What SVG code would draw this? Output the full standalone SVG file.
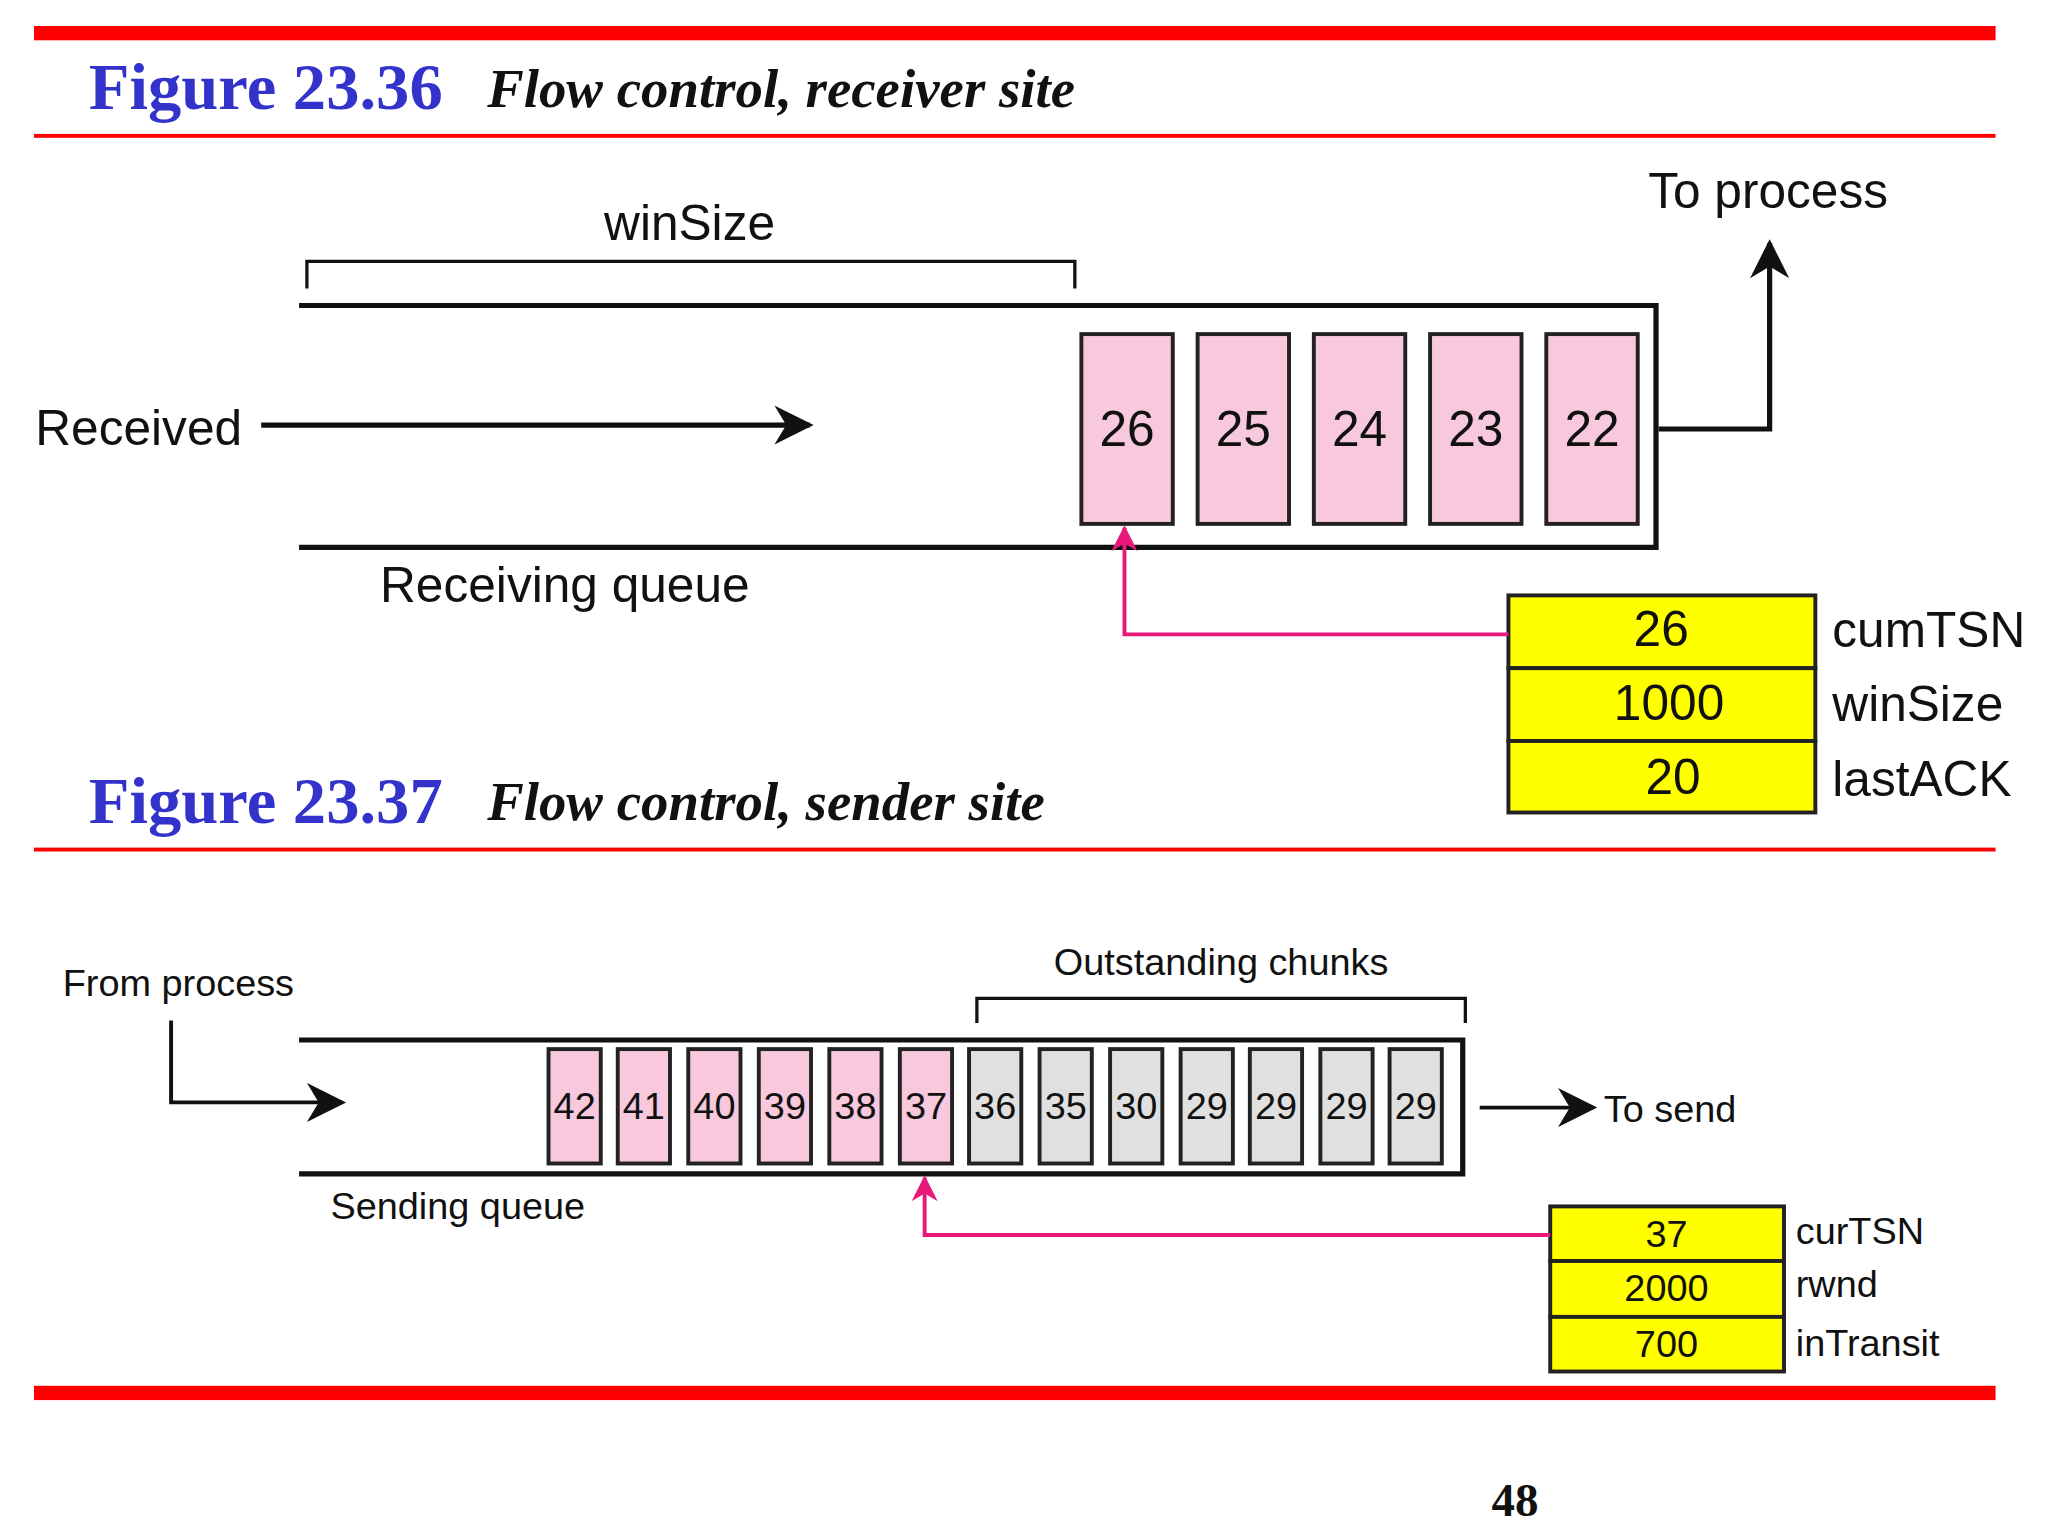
<svg xmlns="http://www.w3.org/2000/svg" width="2048" height="1536" viewBox="0 0 2048 1536">
<style>
.t{font-family:"Liberation Sans",Arial,sans-serif;fill:#111}
.fig{font-family:"Liberation Serif","Times New Roman",serif;font-weight:bold;fill:#3333cc;font-size:51px}
.cap{font-family:"Liberation Serif","Times New Roman",serif;font-weight:bold;font-style:italic;fill:#111;font-size:42px}
.q{fill:none;stroke:#111;stroke-width:4}
.pk{fill:#f8c8dc;stroke:#222;stroke-width:3}
.gy{fill:#e0e0e0;stroke:#222;stroke-width:3}
.yl{fill:#ffff00;stroke:#222;stroke-width:3}
.blk{fill:none;stroke:#111;stroke-width:4}
.mag{fill:none;stroke:#e8197a;stroke-width:3}
</style>
<defs>
<marker id="ab2" viewBox="0 0 10 10" refX="9" refY="5" markerWidth="40" markerHeight="30" markerUnits="userSpaceOnUse" orient="auto"><path d="M0,0 L10,5 L0,10 L3,5 z" fill="#111"/></marker>
<marker id="am" viewBox="0 0 10 10" refX="9" refY="5" markerWidth="26" markerHeight="20" markerUnits="userSpaceOnUse" orient="auto"><path d="M0,0 L10,5 L0,10 L3,5 z" fill="#e8197a"/></marker>
</defs>
<rect width="2048" height="1536" fill="#fff"/>
<g transform="scale(1.306,1.300)">
<g id="frame">
<rect x="26" y="20" width="1502" height="11" fill="#ff0000"/>
<rect x="26" y="103" width="1502" height="3" fill="#ff0000"/>
<rect x="26" y="652" width="1502" height="3" fill="#ff0000"/>
<rect x="26" y="1066" width="1502" height="11" fill="#ff0000"/>
<text class="fig" x="68" y="84">Figure 23.36</text>
<text class="cap" x="373" y="82">Flow control, receiver site</text>
<text class="fig" x="68" y="633">Figure 23.37</text>
<text class="cap" x="373" y="631">Flow control, sender site</text>
<text x="1160" y="1166" text-anchor="middle" style="font-family:'Liberation Serif',serif;font-weight:bold;font-size:36px;fill:#111">48</text>
</g>
<g id="receiver">
<text class="t" x="528" y="185" font-size="38" text-anchor="middle">winSize</text>
<path class="blk" style="stroke-width:2.5" d="M235,222 V201 H823 V222"/>
<path class="q" d="M229,235 H1268 V421 H229"/>
<g id="r26"><rect class="pk" x="828" y="257" width="70" height="146"/><text class="t" x="863" y="343" font-size="38" text-anchor="middle">26</text></g>
<g id="r25"><rect class="pk" x="917" y="257" width="70" height="146"/><text class="t" x="952" y="343" font-size="38" text-anchor="middle">25</text></g>
<g id="r24"><rect class="pk" x="1006" y="257" width="70" height="146"/><text class="t" x="1041" y="343" font-size="38" text-anchor="middle">24</text></g>
<g id="r23"><rect class="pk" x="1095" y="257" width="70" height="146"/><text class="t" x="1130" y="343" font-size="38" text-anchor="middle">23</text></g>
<g id="r22"><rect class="pk" x="1184" y="257" width="70" height="146"/><text class="t" x="1219" y="343" font-size="38" text-anchor="middle">22</text></g>
<text class="t" x="27" y="342" font-size="38">Received</text>
<text class="t" x="1262" y="160" font-size="38">To process</text>
<text class="t" x="291" y="463" font-size="38">Receiving queue</text>
<g id="rtable">
<rect class="yl" x="1155" y="458" width="235" height="56"/><text class="t" x="1272" y="497" font-size="38" text-anchor="middle">26</text>
<rect class="yl" x="1155" y="514" width="235" height="56"/><text class="t" x="1278" y="554" font-size="38" text-anchor="middle">1000</text>
<rect class="yl" x="1155" y="570" width="235" height="55"/><text class="t" x="1281" y="611" font-size="38" text-anchor="middle">20</text>
<text class="t" x="1403" y="498" font-size="38">cumTSN</text>
<text class="t" x="1403" y="555" font-size="38">winSize</text>
<text class="t" x="1403" y="612" font-size="38">lastACK</text>
</g>
</g>
<g id="sender">
<text class="t" x="48" y="766" font-size="29">From process</text>
<text class="t" x="935" y="750" font-size="29" text-anchor="middle">Outstanding chunks</text>
<path class="blk" style="stroke-width:2.5" d="M748,787 V768 H1122 V787"/>
<path class="q" d="M229,800 H1120 V903 H229"/>
<g>
<rect class="pk" x="420" y="807" width="40" height="88"/><text class="t" x="440" y="861" font-size="29" text-anchor="middle">42</text>
<rect class="pk" x="473" y="807" width="40" height="88"/><text class="t" x="493" y="861" font-size="29" text-anchor="middle">41</text>
<rect class="pk" x="527" y="807" width="40" height="88"/><text class="t" x="547" y="861" font-size="29" text-anchor="middle">40</text>
<rect class="pk" x="581" y="807" width="40" height="88"/><text class="t" x="601" y="861" font-size="29" text-anchor="middle">39</text>
<rect class="pk" x="635" y="807" width="40" height="88"/><text class="t" x="655" y="861" font-size="29" text-anchor="middle">38</text>
<rect class="pk" x="689" y="807" width="40" height="88"/><text class="t" x="709" y="861" font-size="29" text-anchor="middle">37</text>
<rect class="gy" x="742" y="807" width="40" height="88"/><text class="t" x="762" y="861" font-size="29" text-anchor="middle">36</text>
<rect class="gy" x="796" y="807" width="40" height="88"/><text class="t" x="816" y="861" font-size="29" text-anchor="middle">35</text>
<rect class="gy" x="850" y="807" width="40" height="88"/><text class="t" x="870" y="861" font-size="29" text-anchor="middle">30</text>
<rect class="gy" x="904" y="807" width="40" height="88"/><text class="t" x="924" y="861" font-size="29" text-anchor="middle">29</text>
<rect class="gy" x="957" y="807" width="40" height="88"/><text class="t" x="977" y="861" font-size="29" text-anchor="middle">29</text>
<rect class="gy" x="1011" y="807" width="40" height="88"/><text class="t" x="1031" y="861" font-size="29" text-anchor="middle">29</text>
<rect class="gy" x="1064" y="807" width="40" height="88"/><text class="t" x="1084" y="861" font-size="29" text-anchor="middle">29</text>
</g>
<text class="t" x="1228" y="863" font-size="29">To send</text>
<text class="t" x="253" y="938" font-size="29">Sending queue</text>
<g id="stable">
<rect class="yl" x="1187" y="928" width="179" height="42"/><text class="t" x="1276" y="959" font-size="29" text-anchor="middle">37</text>
<rect class="yl" x="1187" y="970" width="179" height="43"/><text class="t" x="1276" y="1001" font-size="29" text-anchor="middle">2000</text>
<rect class="yl" x="1187" y="1013" width="179" height="42"/><text class="t" x="1276" y="1044" font-size="29" text-anchor="middle">700</text>
<text class="t" x="1375" y="957" font-size="29">curTSN</text>
<text class="t" x="1375" y="998" font-size="29">rwnd</text>
<text class="t" x="1375" y="1043" font-size="29">inTransit</text>
</g>
</g>
<g id="connectors">
<path class="blk" d="M200,327 H620" marker-end="url(#ab2)"/>
<path class="blk" d="M1270,330 H1355 V187" marker-end="url(#ab2)"/>
<path class="mag" d="M1155,488 H861 V406" marker-end="url(#am)"/>
<path class="blk" style="stroke-width:3" d="M131,785 V848 H262" marker-end="url(#ab2)"/>
<path class="blk" style="stroke-width:3" d="M1133,852 H1220" marker-end="url(#ab2)"/>
<path class="mag" d="M1187,950 H708 V906" marker-end="url(#am)"/>
</g>
</g>
</svg>
